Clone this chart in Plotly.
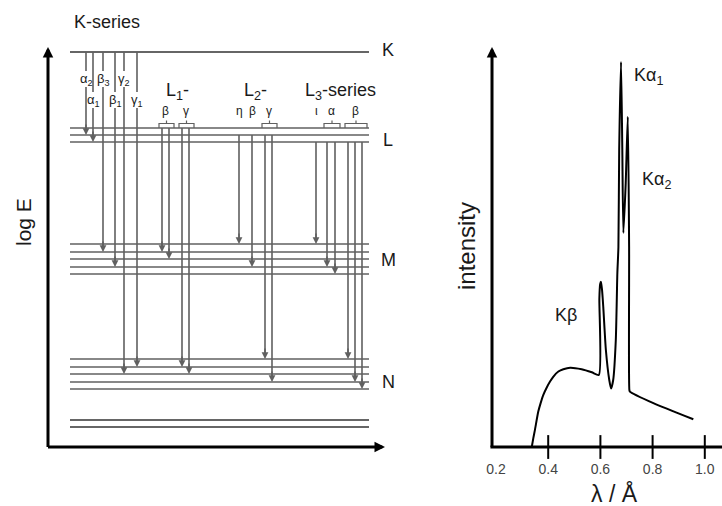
import plotly.graph_objects as go

W, H = 722, 506
FONT = "Liberation Sans, Arial, Helvetica, sans-serif"
GREY = "#606060"
DARK = "#333333"
TEXT = "#1a1a1a"

# ---------------- energy-level scheme (relative log E) ----------------
level_names = ["K", "L1", "L2", "L3", "M1", "M2", "M3", "M4", "M5",
               "N1", "N2", "N3", "N4", "N5", "O1", "O2"]
level_logE = [395, 319, 312, 305, 203, 195, 188, 180, 173,
              88, 80, 73, 65, 58, 27, 20]
level_extent = [22, 321]
dark_levels = ["K", "O1", "O2"]

shell_names = ["K", "L", "M", "N"]
shell_label_logE = [397, 307, 187, 65]

# transitions: initial level, final level, label, horizontal slot
trans_from = ["K"] * 6 + ["L1"] * 4 + ["L2"] * 4 + ["L3"] * 6
trans_to = ["L2", "L3", "M2", "M4", "N3", "N2",
            "M2", "M3", "N2", "N3",
            "M1", "M4", "N1", "N4",
            "M1", "M4", "M5", "N1", "N4", "N5"]
trans_name = ["α<sub>2</sub>", "α<sub>1</sub>", "β<sub>3</sub>", "β<sub>1</sub>",
              "γ<sub>2</sub>", "γ<sub>1</sub>",
              "β", "β", "γ", "γ",
              "η", "β", "γ", "γ",
              "ι", "α", "α", "β", "β", "β"]
trans_x = [38, 45, 55, 67, 76, 89,
           114, 121, 134, 141,
           191, 204, 217, 224,
           268, 279, 287, 300, 307, 314]
k_label_row = [0, 1, 0, 1, 0, 1]
k_row_logE = [368, 347]
l_label_logE = 336

series_titles = ["K-series", "L<sub>1</sub>-", "L<sub>2</sub>-", "L<sub>3</sub>-series"]
series_title_x = [59, 129, 207, 292]
series_title_logE = [425, 356, 356, 356]

# ---------------- characteristic spectrum ----------------
wavelength = [0.337, 0.343, 0.349, 0.362, 0.371, 0.381, 0.394, 0.407, 0.420,
              0.439, 0.458, 0.484, 0.528, 0.567, 0.594,
              0.596, 0.599, 0.602, 0.606, 0.611, 0.621, 0.634, 0.641,
              0.649, 0.659, 0.665, 0.669, 0.672, 0.679,
              0.684, 0.688, 0.697, 0.705, 0.710, 0.711,
              0.713, 0.803, 0.956]
intensity = [0.0, 2.3, 4.4, 9.2, 11.4, 13.5, 15.4, 17.0, 18.3,
             19.6, 20.2, 20.6, 20.2, 19.4, 18.7,
             38.5, 42.3, 42.9, 41.0, 36.4, 25.2, 17.4, 15.2,
             17.4, 27.8, 45.2, 51.9, 77.1, 100.0,
             77.1, 55.6, 68.6, 85.8, 52.0, 14.8,
             14.4, 11.4, 7.2]
tick_vals = [0.2, 0.4, 0.6, 0.8, 1.0]
tick_text = ["0.2", "0.4", "0.6", "0.8", "1.0"]
tick_marks = [0.4, 0.6, 0.8, 1.0]
peak_labels = ["Kα<sub>1</sub>", "Kα<sub>2</sub>", "Kβ"]

lam0 = 0.1847      # where the intensity axis stands
I_top = 103.9      # tip of the intensity arrow

lvl = dict(zip(level_names, level_logE))
fig = go.Figure()
ann = []


def paper(xp, yp):
    return xp / W, 1 - yp / H


def paper_text(xp, yp, text, size, xanchor="center", angle=0):
    x, y = paper(xp, yp)
    return dict(x=x, y=y, xref="paper", yref="paper", text=text, textangle=angle,
                xanchor=xanchor, yanchor="middle", showarrow=False,
                font=dict(size=size, color=TEXT))


# level lines
for shade, names in ((GREY, [n for n in level_names if n not in dark_levels]),
                     (DARK, dark_levels)):
    xs, ys = [], []
    for n in names:
        xs += [level_extent[0], level_extent[1], None]
        ys += [lvl[n], lvl[n], None]
    fig.add_trace(go.Scatter(x=xs, y=ys, mode="lines", xaxis="x", yaxis="y",
                             line=dict(color=shade, width=1.6),
                             hoverinfo="skip", showlegend=False))

# transition lines and arrowheads
GAP = 8
tx, ty = [], []
for i, (s, e, x) in enumerate(zip(trans_from, trans_to, trans_x)):
    top, tip = lvl[s], lvl[e]
    if s == "K":
        row = k_row_logE[k_label_row[i]]
        tx += [x, x, None, x, x, None]
        ty += [top, row + GAP, None, row - GAP, tip + 4, None]
        ann.append(dict(x=x, y=row, xref="x", yref="y", text=trans_name[i],
                        showarrow=False, font=dict(size=13, color=TEXT)))
    else:
        tx += [x, x, None]
        ty += [top, tip + 4, None]
    ann.append(dict(x=x, y=tip, ax=x, ay=tip + 12, xref="x", yref="y",
                    axref="x", ayref="y", text="", showarrow=True,
                    arrowhead=2, arrowsize=0.85, arrowwidth=1.6,
                    arrowcolor=GREY, standoff=0))
fig.add_trace(go.Scatter(x=tx, y=ty, mode="lines", xaxis="x", yaxis="y",
                         line=dict(color=GREY, width=1.6),
                         hoverinfo="skip", showlegend=False))

# L-series labels, with brackets over grouped lines
bx, by = [], []
i = 6
while i < len(trans_x):
    j = i
    while (j + 1 < len(trans_x) and trans_from[j + 1] == trans_from[i]
           and trans_name[j + 1] == trans_name[i]):
        j += 1
    xs = trans_x[i:j + 1]
    mid = sum(xs) / len(xs)
    ann.append(dict(x=mid, y=l_label_logE, xref="x", yref="y", text=trans_name[i],
                    showarrow=False, font=dict(size=12, color=TEXT)))
    if j > i:
        base = lvl["L1"]
        left, right = xs[0] - 3, xs[-1] + 5
        bx += [left, left, right, right, None, (left + right) / 2, (left + right) / 2, None]
        by += [base, base + 4.5, base + 4.5, base, None, base + 4.5, base + 7.5, None]
    i = j + 1
fig.add_trace(go.Scatter(x=bx, y=by, mode="lines", xaxis="x", yaxis="y",
                         line=dict(color=GREY, width=1.2),
                         hoverinfo="skip", showlegend=False))

# series headings and shell names
for t, x, y in zip(series_titles, series_title_x, series_title_logE):
    ann.append(dict(x=x, y=y, xref="x", yref="y", text=t, showarrow=False,
                    font=dict(size=18, color=TEXT)))
for t, y in zip(shell_names, shell_label_logE):
    ann.append(dict(x=340, y=y, xref="x", yref="y", text=t, showarrow=False,
                    font=dict(size=18, color=TEXT)))

# log E axes
ann.append(dict(x=0, y=400, ax=0, ay=-1.5, xref="x", yref="y", axref="x", ayref="y",
                text="", showarrow=True, arrowhead=2, arrowsize=0.7, arrowwidth=3,
                arrowcolor="black", standoff=0))
ann.append(dict(x=337, y=0, ax=-1.5, ay=0, xref="x", yref="y", axref="x", ayref="y",
                text="", showarrow=True, arrowhead=2, arrowsize=0.7, arrowwidth=3,
                arrowcolor="black", standoff=0))
ann.append(paper_text(23, 222, "log E", 21, angle=-90))

# ---------------- spectrum panel ----------------
fig.add_trace(go.Scatter(x=wavelength, y=intensity, mode="lines", xaxis="x2", yaxis="y2",
                         line=dict(color="black", width=2, shape="spline", smoothing=0.6),
                         hoverinfo="skip", showlegend=False))
fig.add_trace(go.Scatter(x=tick_marks, y=[0] * len(tick_marks), mode="markers",
                         xaxis="x2", yaxis="y2", cliponaxis=False,
                         marker=dict(symbol="line-ns-open", size=17, color="black",
                                     line=dict(color="black", width=2)),
                         hoverinfo="skip", showlegend=False))
fig.add_trace(go.Scatter(x=[lam0 - 0.006, 1.07], y=[0, 0], mode="lines",
                         xaxis="x2", yaxis="y2", line=dict(color="black", width=3),
                         hoverinfo="skip", showlegend=False))
ann.append(dict(x=lam0, y=I_top, ax=lam0, ay=-0.4, xref="x2", yref="y2",
                axref="x2", ayref="y2", text="", showarrow=True, arrowhead=2,
                arrowsize=0.7, arrowwidth=3, arrowcolor="black", standoff=0))

for t, (xp, yp, anchor) in zip(peak_labels, [(632, 76, "left"), (640, 181, "left"),
                                             (566, 315, "center")]):
    ann.append(paper_text(xp, yp, t, 18, xanchor=anchor))
ann.append(paper_text(466, 246, "intensity", 24, angle=-90))
ann.append(paper_text(614, 493, "λ / Å", 23))

fig.update_layout(
    width=W, height=H, autosize=False,
    margin=dict(l=0, r=0, t=0, b=0),
    paper_bgcolor="white", plot_bgcolor="white",
    font=dict(family=FONT),
    showlegend=False,
    xaxis=dict(domain=[0, 420 / W], range=[-48, 372], visible=False, fixedrange=True),
    yaxis=dict(domain=[0, 1], range=[-59, 447], visible=False, fixedrange=True),
    xaxis2=dict(domain=[480 / W, 1], range=[0.1387, 1.0659], anchor="free",
                position=59 / H, showgrid=False, zeroline=False, showline=False,
                tickvals=tick_vals, ticktext=tick_text, ticks="outside", ticklen=9,
                tickcolor="rgba(0,0,0,0)", tickfont=dict(size=14, color="#444444"),
                fixedrange=True),
    yaxis2=dict(domain=[0, 1], range=[-15.32, 116.1], anchor="x2", visible=False,
                fixedrange=True),
    annotations=ann,
)

fig.write_html("out.html")
